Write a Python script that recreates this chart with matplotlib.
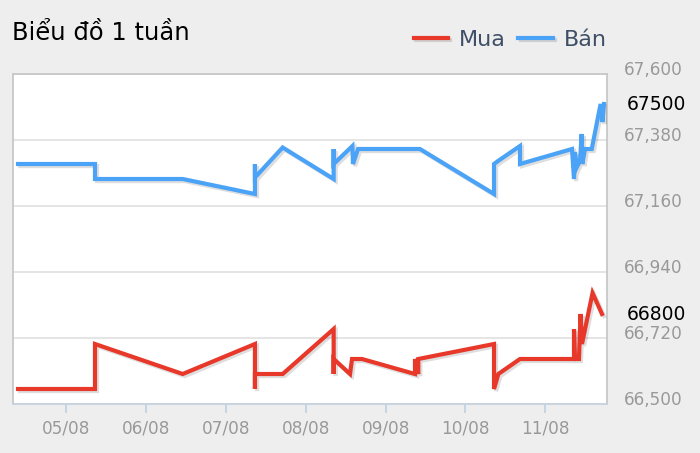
import matplotlib
matplotlib.use("Agg")
import matplotlib.pyplot as plt
import matplotlib.patheffects as pe
import matplotlib.transforms as mtransforms

# thoi gian: ngay trong thang 8 (so thuc)
mua_t = [4.40, 5.363, 5.363, 6.461, 7.365, 7.365, 7.365, 7.712, 8.35, 8.35, 8.35,
         8.555, 8.58, 8.705, 9.368, 9.368, 9.409, 9.409, 10.357, 10.357, 10.411,
         10.682, 11.358, 11.358, 11.37, 11.42, 11.44, 11.458, 11.59, 11.708]
mua = [66550, 66550, 66700, 66600, 66700, 66550, 66600, 66600, 66750, 66600, 66650,
       66600, 66650, 66650, 66600, 66650, 66600, 66650, 66700, 66550, 66600,
       66650, 66650, 66750, 66650, 66650, 66800, 66700, 66870, 66800]

ban_t = [4.40, 5.363, 5.363, 6.461, 7.365, 7.365, 7.365, 7.712, 8.35, 8.35, 8.35,
         8.585, 8.592, 8.655, 9.43, 10.357, 10.357, 10.407, 10.682, 10.682,
         11.333, 11.358, 11.37, 11.395, 11.433, 11.454, 11.462, 11.496, 11.58,
         11.691, 11.714, 11.733]
ban = [67300, 67300, 67250, 67250, 67200, 67300, 67255, 67355, 67250, 67350, 67300,
       67360, 67300, 67350, 67350, 67200, 67300, 67310, 67360, 67300,
       67350, 67250, 67340, 67290, 67310, 67400, 67300, 67350, 67350,
       67500, 67440, 67500]

x_ticks = [5, 6, 7, 8, 9, 10, 11]
x_labels = ["05/08", "06/08", "07/08", "08/08", "09/08", "10/08", "11/08"]
y_ticks = [66500, 66720, 66940, 67160, 67380, 67600]
y_labels = ["66,500", "66,720", "66,940", "67,160", "67,380", "67,600"]
last_mua = 66800
last_ban = 67500

red = "#e8382a"
blue = "#4aa3f7"
bg = "#eeeeee"

fig = plt.figure(figsize=(7, 4.53), dpi=100, facecolor=bg)
ax = fig.add_axes([13 / 700, 49 / 453, 594 / 700, 330 / 453])
ax.set_facecolor("white")

shadow = [pe.SimpleLineShadow(offset=(1.5, -1.5), shadow_color="black", alpha=0.13),
          pe.Normal()]
ax.plot(mua_t, mua, color=red, lw=3.0, solid_joinstyle="miter",
        path_effects=shadow, label="Mua", zorder=3)
ax.plot(ban_t, ban, color=blue, lw=3.0, solid_joinstyle="miter",
        path_effects=shadow, label="Bán", zorder=3)

ax.set_xlim(4.337, 11.771)
ax.set_ylim(66500, 67600)

ax.set_yticks(y_ticks)
ax.set_yticklabels(y_labels)
ax.yaxis.tick_right()
ax.grid(axis="y", color="#e0e0e0", lw=1.2)
ax.set_axisbelow(True)
ax.tick_params(axis="y", length=0, pad=12, labelsize=12.2, labelcolor="#999999")
off = mtransforms.ScaledTranslation(0, 6 / 100, fig.dpi_scale_trans)
for lab in ax.get_yticklabels():
    lab.set_transform(lab.get_transform() + off)

ax.set_xticks(x_ticks)
ax.set_xticklabels(x_labels)
ax.tick_params(axis="x", length=6.5, width=1.2, color="#c0d0e0", pad=5,
               labelsize=12.2, labelcolor="#999999")

for side in ["left", "top", "right"]:
    ax.spines[side].set_color("#c8c8c8")
    ax.spines[side].set_linewidth(1.3)
ax.spines["bottom"].set_color("#c6d2de")
ax.spines["bottom"].set_linewidth(1.3)

# nhan gia cuoi
for v in [last_ban, last_mua]:
    ax.annotate(str(v), xy=(1, v), xycoords=("axes fraction", "data"),
                xytext=(14, 0), textcoords="offset points",
                va="center", ha="left", fontsize=13.5, color="black",
                annotation_clip=False)

fig.text(12.5 / 700, 1 - 39.5 / 453, "Biểu đồ 1 tuần", fontsize=17.5,
         color="black", va="baseline", ha="left")

fig.legend(loc="center right", bbox_to_anchor=(607 / 700, 1 - 40 / 453),
           ncol=2, frameon=False, fontsize=16, handlelength=1.55,
           handletextpad=0.5, columnspacing=0.55, borderpad=0,
           borderaxespad=0, labelcolor="#3e4f66")

fig.savefig("out.png", dpi=100, facecolor=bg)
